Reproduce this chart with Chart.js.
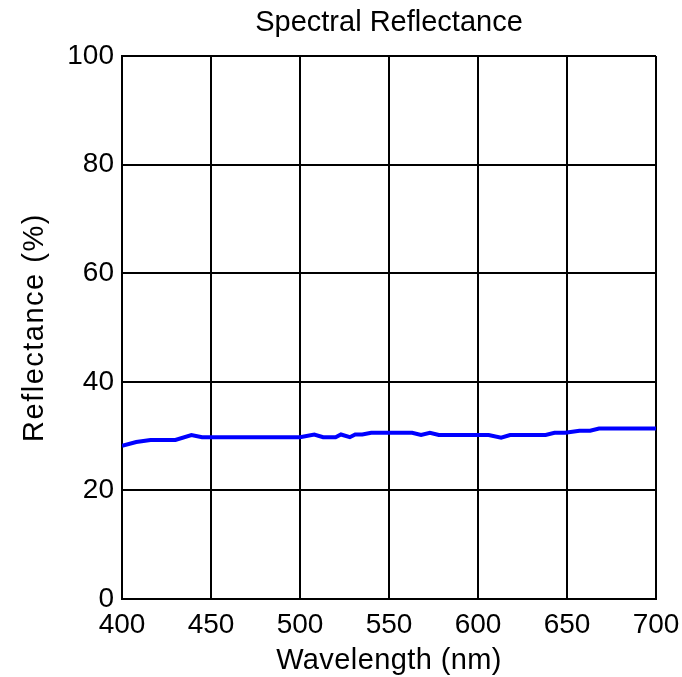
<!DOCTYPE html>
<html>
<head>
<meta charset="utf-8">
<script src="https://cdn.jsdelivr.net/npm/chart.js@4"></script>
<style>
  html, body { margin: 0; padding: 0; background: #fff; }
  canvas { display: block; }
</style>
</head>
<body>
<canvas id="chart" width="682" height="677"></canvas>
<script>
// wavelength (nm) and reflectance (%)
const wavelengths = [400, 408, 416, 430, 439, 445, 500, 508, 513, 520, 523, 528, 531, 535, 540, 563, 568, 573, 578, 606, 613, 618, 638, 643, 649, 657, 663, 668, 700];
const reflectance = [28.2, 28.9, 29.3, 29.3, 30.2, 29.8, 29.8, 30.3, 29.8, 29.8, 30.3, 29.8, 30.3, 30.3, 30.6, 30.6, 30.2, 30.6, 30.2, 30.2, 29.7, 30.2, 30.2, 30.6, 30.6, 31.0, 31.0, 31.4, 31.4];
const xTicks = [400, 450, 500, 550, 600, 650, 700];
const yTicks = [0, 20, 40, 60, 80, 100];

const FONT = '"Liberation Sans", Arial, sans-serif';
const points = wavelengths.map((w, i) => ({ x: w, y: reflectance[i] }));

// axis titles in the original are drawn a bit spaced out
const titleSpacing = { x: '0.4px', y: '1.5px' };
const layoutTweaks = {
  id: 'layoutTweaks',
  afterLayout(chart) {
    // center the chart title over the plot box, not the whole canvas
    const tb = chart.titleBlock;
    if (tb) {
      tb.left = chart.chartArea.left;
      tb.right = chart.chartArea.right;
    }
    Object.keys(titleSpacing).forEach(id => {
      const s = chart.scales[id];
      if (!s || s._spaced) return;
      const orig = s.drawTitle;
      s.drawTitle = function (area) {
        this.ctx.save();
        this.ctx.letterSpacing = titleSpacing[id];
        orig.call(this, area);
        this.ctx.restore();
      };
      s._spaced = true;
    });
  }
};

const ctx = document.getElementById('chart').getContext('2d');
new Chart(ctx, {
  type: 'line',
  data: {
    datasets: [{
      label: 'Reflectance',
      data: points,
      borderColor: '#0000ff',
      borderWidth: 4,
      pointRadius: 0,
      tension: 0,
      fill: false
    }]
  },
  options: {
    responsive: false,
    animation: false,
    devicePixelRatio: 1,
    layout: { padding: { left: 0, right: 26, top: 0, bottom: 0 } },
    plugins: {
      legend: { display: false },
      tooltip: { enabled: false },
      title: {
        display: true,
        text: 'Spectral Reflectance',
        color: '#000',
        font: { family: FONT, size: 29, weight: 'normal', lineHeight: 1 },
        padding: { top: 8, bottom: 19 }
      }
    },
    scales: {
      x: {
        type: 'linear',
        min: 400,
        max: 700,
        afterBuildTicks: s => { s.ticks = xTicks.map(v => ({ value: v })); },
        afterFit: s => { s.height = 78; s.paddingLeft = 0; s.paddingRight = 0; },
        ticks: { color: '#000', font: { family: FONT, size: 28 }, padding: 9, maxRotation: 0 },
        grid: { color: '#000', lineWidth: 2, drawTicks: false },
        border: { color: '#000', width: 2 },
        title: {
          display: true,
          text: 'Wavelength (nm)',
          color: '#000',
          font: { family: FONT, size: 29, lineHeight: 1 },
          padding: { top: 0, bottom: 2 }
        }
      },
      y: {
        min: 0,
        max: 100,
        afterBuildTicks: s => { s.ticks = yTicks.map(v => ({ value: v })); },
        afterFit: s => { s.width = 122; },
        ticks: { color: '#000', font: { family: FONT, size: 28 }, padding: 8 },
        grid: { color: '#000', lineWidth: 2, drawTicks: false },
        border: { color: '#000', width: 2 },
        title: {
          display: true,
          text: 'Reflectance (%)',
          color: '#000',
          font: { family: FONT, size: 29, lineHeight: 1 },
          padding: { top: 20, bottom: 0 }
        }
      }
    }
  },
  plugins: [layoutTweaks]
});
</script>
</body>
</html>
